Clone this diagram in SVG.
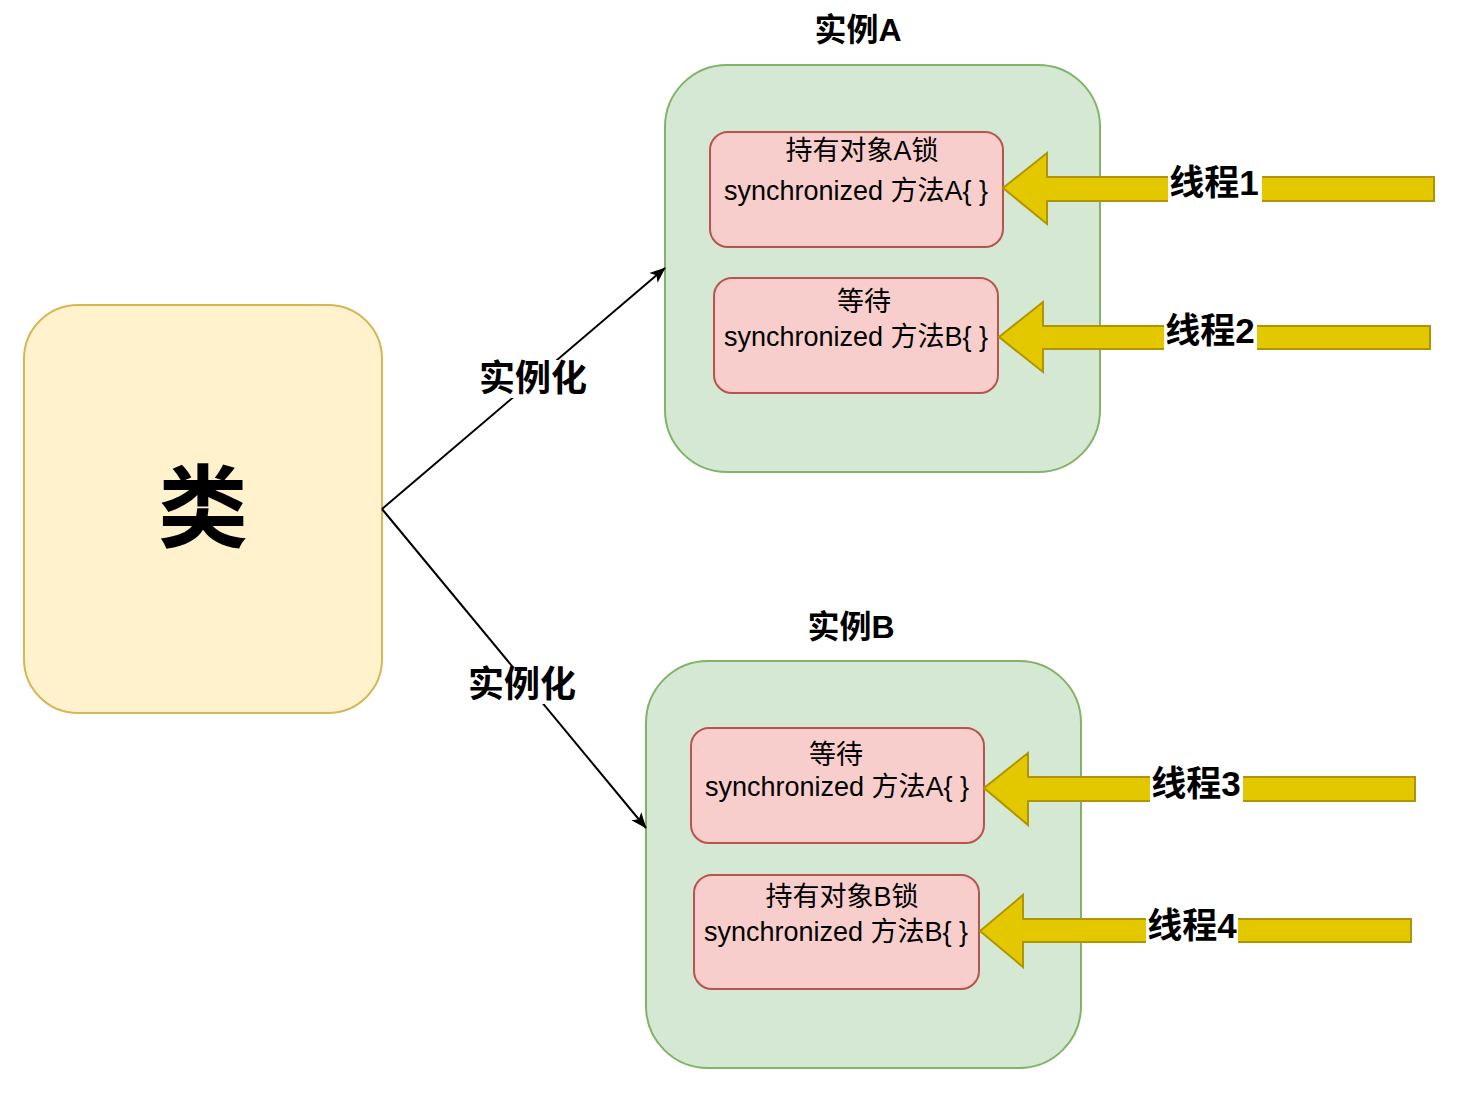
<svg xmlns="http://www.w3.org/2000/svg" width="1458" height="1093" viewBox="0 0 1458 1093">
<style>
text{font-family:"Liberation Sans","Noto Sans CJK SC",sans-serif;fill:#000;text-anchor:middle;dominant-baseline:central}
.b{font-weight:bold}
.cls{fill:#fff2cc;stroke:#d6b656;stroke-width:2}
.inst{fill:#d5e8d4;stroke:#82b366;stroke-width:2}
.m{fill:#f8cecc;stroke:#b85450;stroke-width:2}
.arr{fill:#e3c800;stroke:#b09500;stroke-width:2}
.conn{fill:none;stroke:#000;stroke-width:2}
.bg{fill:#fff}
.t{font-size:27px}
.lbl{font-size:35px;font-weight:bold}
.cl{font-size:36px;font-weight:bold}
</style>
<defs>
<marker id="ah" viewBox="0 0 10 10" refX="9.5" refY="5" markerWidth="16" markerHeight="16" orient="auto" markerUnits="userSpaceOnUse">
<path d="M0,1 L10,5 L0,9 L2.5,5 Z" fill="#000"/>
</marker>
</defs>
<g id="class-node">
<rect class="cls" x="24" y="305" width="358" height="408" rx="54"/>
<text class="b" x="203" y="509" style="font-size:90px">类</text>
</g>
<g id="instanceA">
<rect class="inst" x="665" y="65" width="435" height="407" rx="62"/>
<text class="b" x="858" y="30" style="font-size:32px">实例A</text>
</g>
<g id="instanceB">
<rect class="inst" x="646" y="661" width="435" height="407" rx="62"/>
<text class="b" x="851" y="627" style="font-size:32px">实例B</text>
</g>
<g id="methodA1">
<rect class="m" x="710" y="132" width="293" height="115" rx="18"/>
<text class="t" x="862" y="151">持有对象A锁</text>
<text class="t" x="856" y="191">synchronized 方法A{ }</text>
</g>
<g id="methodB1">
<rect class="m" x="714" y="278" width="284" height="115" rx="18"/>
<text class="t" x="864" y="302">等待</text>
<text class="t" x="856" y="337">synchronized 方法B{ }</text>
</g>
<g id="methodA2">
<rect class="m" x="691" y="728" width="293" height="115" rx="18"/>
<text class="t" x="836" y="755">等待</text>
<text class="t" x="837" y="787">synchronized 方法A{ }</text>
</g>
<g id="methodB2">
<rect class="m" x="694" y="875" width="285" height="114" rx="18"/>
<text class="t" x="842" y="897">持有对象B锁</text>
<text class="t" x="836" y="932">synchronized 方法B{ }</text>
</g>
<g id="thread1">
<polygon class="arr" points="1003,188 1047,153 1047,177 1434,177 1434,201 1047,201 1047,224"/>
<rect class="bg" x="1168" y="170" width="94" height="36"/>
<text class="lbl" x="1214" y="182">线程1</text>
</g>
<g id="thread2">
<polygon class="arr" points="999,337 1043,302 1043,326 1430,326 1430,349 1043,349 1043,372"/>
<rect class="bg" x="1164" y="319" width="93" height="36"/>
<text class="lbl" x="1210" y="330">线程2</text>
</g>
<g id="thread3">
<polygon class="arr" points="984,788 1028,753 1028,777 1415,777 1415,801 1028,801 1028,825"/>
<rect class="bg" x="1150" y="771" width="93" height="36"/>
<text class="lbl" x="1196" y="783">线程3</text>
</g>
<g id="thread4">
<polygon class="arr" points="980,931 1023,895 1023,919 1411,919 1411,942 1023,942 1023,967"/>
<rect class="bg" x="1146" y="913" width="92" height="36"/>
<text class="lbl" x="1192" y="925">线程4</text>
</g>
<g id="connectors">
<path class="conn" d="M382,509 L665,268" marker-end="url(#ah)"/>
<path class="conn" d="M382,509 L646,828" marker-end="url(#ah)"/>
<rect class="bg" x="480" y="360" width="107" height="38"/>
<text class="cl" x="533" y="378">实例化</text>
<rect class="bg" x="469" y="666" width="107" height="38"/>
<text class="cl" x="522" y="684">实例化</text>
</g>
</svg>
